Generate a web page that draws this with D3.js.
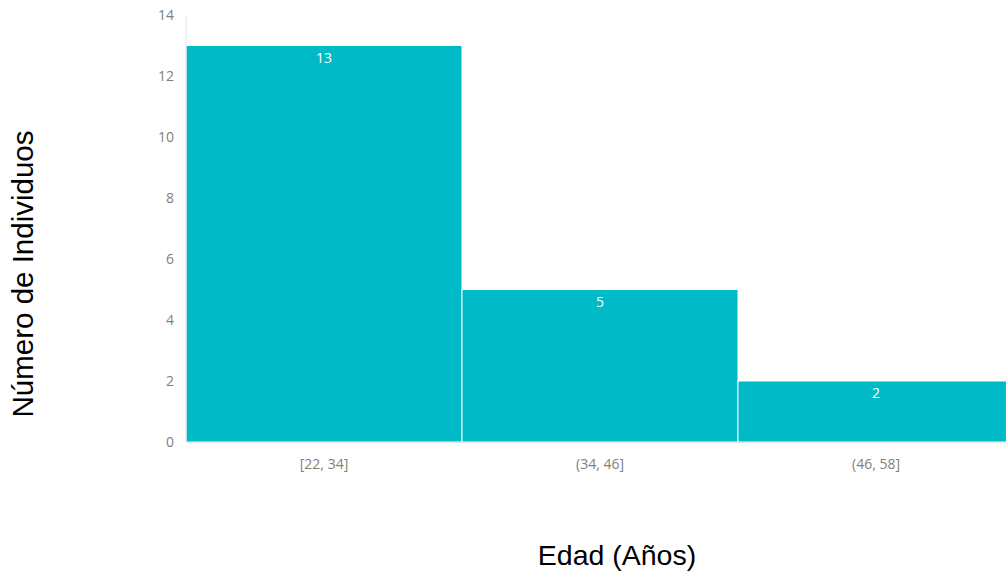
<!DOCTYPE html>
<html><head><meta charset="utf-8">
<script src="https://cdn.jsdelivr.net/npm/d3@7"></script>
<style>body{margin:0;background:#fff}svg{display:block}</style>
</head><body>
<svg id="c" width="1006" height="571"></svg>
<script>
const categories = ["[22, 34]", "(34, 46]", "(46, 58]"];
const counts = [13, 5, 2];
const yTicks = [0, 2, 4, 6, 8, 10, 12, 14];

const svg = d3.select("#c");
const m = {left: 186, right: 1014, top: 15, bottom: 442};
const x = d3.scaleBand().domain(categories).range([m.left, m.right]).padding(0);
const y = d3.scaleLinear().domain([0, 14]).range([m.bottom, m.top]);

svg.selectAll("rect.bar").data(categories).join("rect")
  .attr("class", "bar")
  .attr("x", d => x(d))
  .attr("width", x.bandwidth())
  .attr("y", (d, i) => y(counts[i]))
  .attr("height", (d, i) => y(0) - y(counts[i]))
  .attr("fill", "#00BAC8")
  .attr("stroke", "#fff").attr("stroke-width", 1);

svg.append("line").attr("x1", m.left).attr("x2", m.left).attr("y1", m.top).attr("y2", m.bottom)
  .attr("stroke", "#e4e4e4").attr("stroke-width", 1);
svg.append("line").attr("x1", m.left).attr("x2", m.right).attr("y1", m.bottom + 0.5).attr("y2", m.bottom + 0.5)
  .attr("stroke", "#e4e4e4").attr("stroke-width", 1);

const yAxis = d3.axisLeft(y).tickValues(yTicks).tickSize(0).tickPadding(12);
const gy = svg.append("g").attr("transform", `translate(${m.left},0)`).call(yAxis);
gy.select(".domain").remove();
gy.selectAll("text").attr("fill", "#808080").style("font-family", "'Open Sans', sans-serif").style("font-size", "14px");

const xAxis = d3.axisBottom(x).tickSize(0).tickPadding(17);
const gx = svg.append("g").attr("transform", `translate(0,${m.bottom})`).call(xAxis);
gx.select(".domain").remove();
gx.selectAll("text").attr("fill", "#808080").style("font-family", "'Open Sans', sans-serif").style("font-size", "14px");

svg.selectAll("text.lbl").data(categories).join("text")
  .attr("class", "lbl")
  .attr("x", d => x(d) + x.bandwidth() / 2)
  .attr("y", (d, i) => y(counts[i]) + 17)
  .attr("text-anchor", "middle")
  .attr("fill", "#fff")
  .style("font-family", "'Open Sans', sans-serif").style("font-size", "14px")
  .text((d, i) => counts[i]);

svg.append("text")
  .attr("transform", "translate(33,274) rotate(-90)")
  .attr("text-anchor", "middle")
  .style("font-family", "'Liberation Sans', Arial, sans-serif").style("font-size", "29.5px")
  .attr("fill", "#000")
  .text("Número de Individuos");

svg.append("text")
  .attr("x", 617).attr("y", 565)
  .attr("text-anchor", "middle")
  .style("font-family", "'Liberation Sans', Arial, sans-serif").style("font-size", "28.5px")
  .attr("fill", "#000")
  .text("Edad (Años)");
</script>
</body></html>
